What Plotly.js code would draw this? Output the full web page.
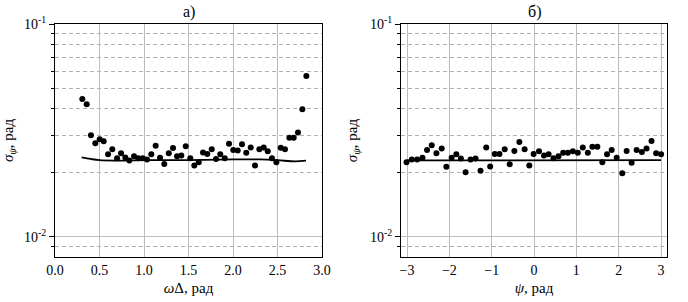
<!DOCTYPE html>
<html><head><meta charset="utf-8">
<script src="https://cdn.plot.ly/plotly-3.0.1.min.js"></script>
</head><body style="margin:0;background:#fff"><div id="c"></div>
<script>
// Panel а): sigma_psi vs omega*Delta
const xA = [0.307,0.356,0.404,0.453,0.502,0.547,0.596,0.644,0.697,0.742,0.790,0.835,0.888,0.936,0.985,1.034,1.082,1.131,1.180,1.228,1.278,1.326,1.371,1.419,1.469,1.520,1.565,1.615,1.663,1.711,1.761,1.809,1.857,1.907,1.955,2.003,2.053,2.101,2.149,2.199,2.247,2.296,2.345,2.390,2.438,2.487,2.536,2.584,2.633,2.682,2.730,2.779,2.824];
const yA = [0.0444,0.0420,0.0300,0.0275,0.0287,0.0281,0.0244,0.0258,0.0234,0.0247,0.0236,0.0228,0.0239,0.0234,0.0234,0.0231,0.0244,0.0268,0.0235,0.0220,0.0247,0.0261,0.0239,0.0241,0.0266,0.0234,0.0216,0.0224,0.0249,0.0245,0.0258,0.0232,0.0244,0.0234,0.0274,0.0256,0.0254,0.0272,0.0248,0.0263,0.0216,0.0258,0.0263,0.0252,0.0234,0.0224,0.0262,0.0258,0.0292,0.0292,0.0309,0.0398,0.0571];
const lineAx = [0.30,0.40,0.50,0.70,1.00,1.50,2.00,2.30,2.50,2.70,2.82];
const lineAy = [0.0236,0.0232,0.0229,0.0228,0.0229,0.0229,0.0231,0.0231,0.0229,0.0226,0.0228];
// Panel б): sigma_psi vs psi
const xB = [-3.012,-2.887,-2.762,-2.635,-2.527,-2.416,-2.306,-2.181,-2.071,-1.946,-1.835,-1.727,-1.616,-1.499,-1.381,-1.264,-1.129,-1.035,-0.927,-0.816,-0.692,-0.574,-0.464,-0.346,-0.221,-0.111,-0.009,0.118,0.235,0.344,0.461,0.579,0.689,0.800,0.918,1.035,1.153,1.271,1.379,1.496,1.614,1.725,1.835,1.953,2.085,2.188,2.306,2.424,2.548,2.659,2.776,2.885,3.002];
const yB = [0.0224,0.0231,0.0231,0.0235,0.0256,0.0269,0.0247,0.0260,0.0213,0.0235,0.0244,0.0233,0.0201,0.0231,0.0233,0.0204,0.0263,0.0214,0.0245,0.0245,0.0258,0.0219,0.0253,0.0279,0.0258,0.0216,0.0245,0.0252,0.0241,0.0244,0.0234,0.0239,0.0248,0.0248,0.0252,0.0248,0.0263,0.0248,0.0265,0.0265,0.0224,0.0244,0.0256,0.0235,0.0199,0.0253,0.0223,0.0256,0.0250,0.0260,0.0282,0.0247,0.0244];
const lineBx = [-3.0,-1.5,0.0,1.5,3.0];
const lineBy = [0.02285,0.0229,0.0229,0.0229,0.0229];
const yTickVals = [0.01,0.1];
const yTickText = ['10<sup>-2</sup>','10<sup>-1</sup>'];
const yMinor = [0.009,0.02,0.03,0.04,0.05,0.06,0.07,0.08,0.09];
const xTickA = [0,0.5,1,1.5,2,2.5,3];
const xTickTextA = ['0.0','0.5','1.0','1.5','2.0','2.5','3.0'];
const xTickB = [-3,-2,-1,0,1,2,3];

const FAM = 'Liberation Serif';
const BLK = '#000';
const mk = {color:BLK, size:6};
const traces = [
  {x:lineAx, y:lineAy, mode:'lines', line:{color:BLK, width:1.8, shape:'spline'}, xaxis:'x', yaxis:'y', hoverinfo:'skip'},
  {x:xA, y:yA, mode:'markers', marker:mk, xaxis:'x', yaxis:'y'},
  {x:lineBx, y:lineBy, mode:'lines', line:{color:BLK, width:1.8}, xaxis:'x2', yaxis:'y2', hoverinfo:'skip'},
  {x:xB, y:yB, mode:'markers', marker:mk, xaxis:'x2', yaxis:'y2'}
];
const yRange = [-2.096,-0.999];
function yax(anchor, title){
  return {type:'log', range:yRange, anchor:anchor,
    tickmode:'array', tickvals:yTickVals, ticktext:yTickText,
    ticks:'outside', ticklen:5, tickcolor:BLK,
    showgrid:true, gridcolor:'#bdbdbd', gridwidth:1,
    showline:true, linecolor:BLK, linewidth:1, mirror:true, zeroline:false,
    tickfont:{family:FAM, size:14, color:BLK},
    title:{text:title, font:{family:FAM, size:15, color:BLK}, standoff:8}};
}
function yMinorAx(over){
  return {type:'log', range:yRange, overlaying:over, anchor:over==='y'?'x':'x2', side:'left',
    tickmode:'array', tickvals:yMinor, showticklabels:false,
    ticks:'outside', ticklen:3, tickcolor:BLK,
    showgrid:true, gridcolor:'#b0b0b0', gridwidth:1, griddash:'4px,3px',
    showline:false, zeroline:false};
}
function xax(domain, anchor, tv, tt, range, title){
  const a = {domain:domain, anchor:anchor, range:range, tickmode:'array', tickvals:tv,
    ticks:'', showgrid:true, gridcolor:'#bdbdbd', gridwidth:1, zeroline:false,
    showline:true, linecolor:BLK, linewidth:1, mirror:true,
    tickfont:{family:FAM, size:14, color:BLK},
    title:{text:title, font:{family:FAM, size:15, color:BLK}, standoff:5}};
  if (tt) a.ticktext = tt;
  return a;
}
const layout = {
  width:688, height:302, paper_bgcolor:'#fff', plot_bgcolor:'rgba(0,0,0,0)', showlegend:false,
  font:{family:FAM, size:14, color:BLK},
  margin:{l:55, r:21, t:24, b:45},
  xaxis: xax([0,0.4363],'y', xTickA, xTickTextA, [0,3], '<i>ω</i>Δ, рад'),
  yaxis: yax('x', '<i>σ</i><sub><i>ψ</i></sub>, рад'),
  xaxis2: xax([0.5654,1],'y2', xTickB, null, [-Math.PI,Math.PI], '<i>ψ</i>, рад'),
  yaxis2: yax('x2', '<i>σ</i><sub><i>ψ</i></sub>, рад'),
  yaxis3: yMinorAx('y'),
  yaxis4: yMinorAx('y2'),
  annotations:[
    {text:'а)', xref:'x domain', yref:'paper', x:0.5, y:1, yshift:12, showarrow:false, yanchor:'middle', font:{family:FAM, size:16, color:BLK}},
    {text:'б)', xref:'x2 domain', yref:'paper', x:0.5, y:1, yshift:12, showarrow:false, yanchor:'middle', font:{family:FAM, size:16, color:BLK}}
  ]
};
// invisible anchor traces so the overlay grid axes are drawn
traces.unshift({x:[xTickA[0]], y:[yMinor[0]], mode:'markers', marker:{opacity:0}, xaxis:'x', yaxis:'y3', hoverinfo:'skip'});
traces.unshift({x:[xTickB[0]], y:[yMinor[0]], mode:'markers', marker:{opacity:0}, xaxis:'x2', yaxis:'y4', hoverinfo:'skip'});
Plotly.newPlot('c', traces, layout, {displayModeBar:false});
</script></body></html>
